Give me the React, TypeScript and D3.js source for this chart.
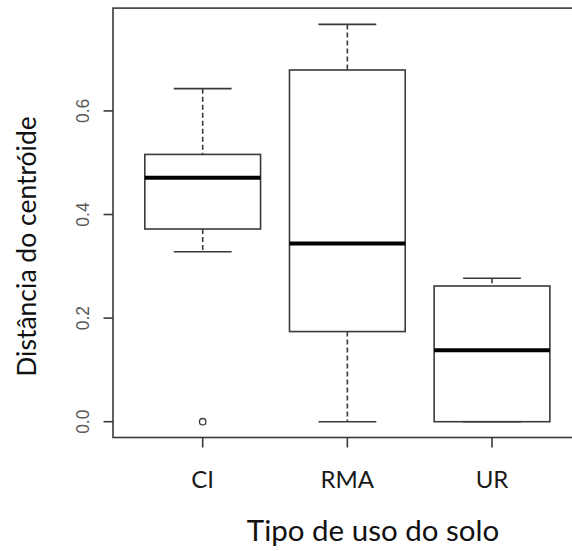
import React from "react";
import * as d3 from "d3";

const categories = ["CI", "RMA", "UR"];
const q1 = [0.372, 0.174, 0.0];
const medians = [0.471, 0.344, 0.138];
const q3 = [0.516, 0.679, 0.262];
const whiskerLow = [0.328, 0.0, 0.0];
const whiskerHigh = [0.643, 0.767, 0.277];
const outliers: [number, number][] = [[0, 0.0]];
const yTicks = [0.0, 0.2, 0.4, 0.6];

const W = 572;
const H = 551;

export default function App() {
  const x = d3.scaleLinear().domain([0.38, 3.62]).range([113, 581.7]);
  const y = d3.scaleLinear().domain([-0.0305, 0.7985]).range([437.5, 8.1]);
  const unit = x(1) - x(0);
  const boxHalf = 0.4 * unit;
  const capHalf = 0.2 * unit;
  const stroke = "#3a3a3a";
  const sw = 1.6;

  return (
    <svg
      width={W}
      height={H}
      style={{ position: "absolute", left: 0, top: 0, background: "#fff" }}
    >
      <rect x={0} y={0} width={W} height={H} fill="#fff" />
      {/* frame */}
      <rect
        x={x(0.38)}
        y={y(0.7985)}
        width={x(3.62) - x(0.38)}
        height={y(-0.0305) - y(0.7985)}
        fill="none"
        stroke={stroke}
        strokeWidth={sw}
      />
      {/* y ticks */}
      {yTicks.map((t) => (
        <g key={t}>
          <line x1={x(0.38) - 9.5} x2={x(0.38)} y1={y(t)} y2={y(t)} stroke={stroke} strokeWidth={sw} />
          <text
            transform={`translate(${89},${y(t)}) rotate(-90)`}
            textAnchor="middle"
            fontFamily="Liberation Sans, Arial, sans-serif"
            fontSize={17.5}
            fill="#5a5a5a"
          >
            {d3.format(".1f")(t)}
          </text>
        </g>
      ))}
      {/* x ticks */}
      {categories.map((c, i) => (
        <g key={c}>
          <line x1={x(i + 1)} x2={x(i + 1)} y1={y(-0.0305)} y2={y(-0.0305) + 10} stroke={stroke} strokeWidth={sw} />
          <text
            x={x(i + 1)}
            y={488}
            textAnchor="middle"
            fontFamily="Lato, sans-serif"
            fontSize={24}
            fill="#1a1a1a"
          >
            {c}
          </text>
        </g>
      ))}
      {/* boxes */}
      {categories.map((c, i) => {
        const cx = x(i + 1);
        return (
          <g key={"b" + c}>
            <line x1={cx} x2={cx} y1={y(whiskerHigh[i])} y2={y(q3[i])} stroke={stroke} strokeWidth={sw} strokeDasharray="5,3" />
            <line x1={cx} x2={cx} y1={y(q1[i])} y2={y(whiskerLow[i])} stroke={stroke} strokeWidth={sw} strokeDasharray="5,3" />
            <line x1={cx - capHalf} x2={cx + capHalf} y1={y(whiskerHigh[i])} y2={y(whiskerHigh[i])} stroke={stroke} strokeWidth={sw} />
            <line x1={cx - capHalf} x2={cx + capHalf} y1={y(whiskerLow[i])} y2={y(whiskerLow[i])} stroke={stroke} strokeWidth={sw} />
            <rect
              x={cx - boxHalf}
              y={y(q3[i])}
              width={2 * boxHalf}
              height={y(q1[i]) - y(q3[i])}
              fill="#fff"
              stroke={stroke}
              strokeWidth={sw}
            />
            <line x1={cx - boxHalf} x2={cx + boxHalf} y1={y(medians[i])} y2={y(medians[i])} stroke="#000" strokeWidth={4} />
          </g>
        );
      })}
      {outliers.map(([gi, v], k) => (
        <circle key={"o" + k} cx={x(gi + 1)} cy={y(v)} r={3.2} fill="none" stroke={stroke} strokeWidth={1.3} />
      ))}
      {/* axis titles */}
      <text
        x={373}
        y={540.5}
        textAnchor="middle"
        fontFamily="Lato, sans-serif"
        fontSize={29.5}
        fill="#111"
      >
        Tipo de uso do solo
      </text>
      <text
        transform={`translate(36,246.5) rotate(-90)`}
        textAnchor="middle"
        fontFamily="Lato, sans-serif"
        fontSize={26.5}
        fill="#111"
      >
        Distância do centróide
      </text>
    </svg>
  );
}
